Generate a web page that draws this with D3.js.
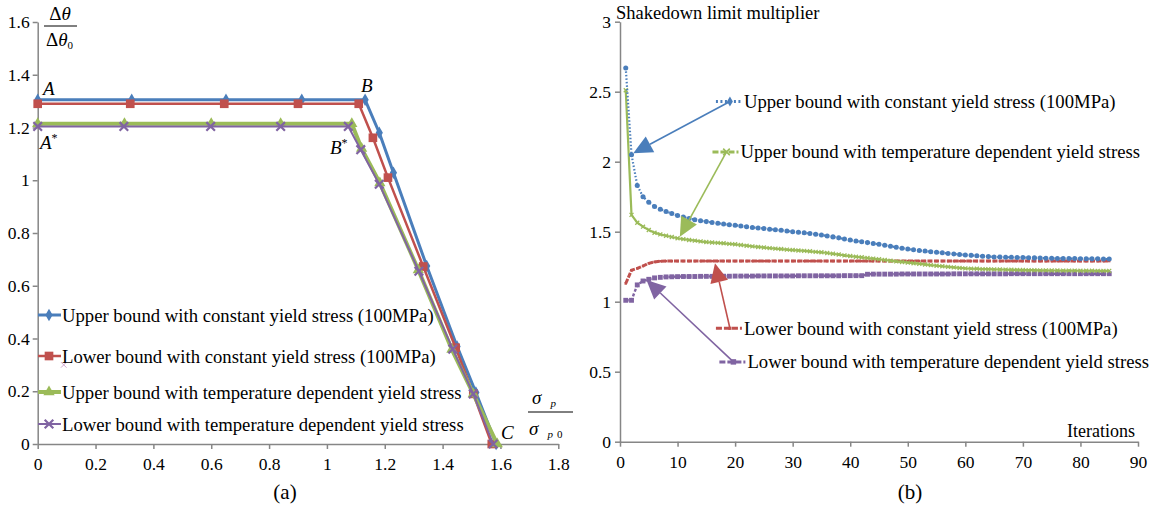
<!DOCTYPE html>
<html>
<head>
<meta charset="utf-8">
<script src="https://cdn.jsdelivr.net/npm/d3@7"></script>
<style>
  body { margin: 0; background: #fff; }
  svg text { font-family: "Liberation Serif", "Times New Roman", serif; fill: #000; }
</style>
</head>
<body>
<svg id="chart" width="1149" height="513"></svg>
<script>
// ---------- panel (a): normalised temperature range vs. normalised load ----------
const aXTicks = [0, 0.2, 0.4, 0.6, 0.8, 1, 1.2, 1.4, 1.6, 1.8];
const aYTicks = [0, 0.2, 0.4, 0.6, 0.8, 1, 1.2, 1.4, 1.6];

const aUpperConstX = [0, 0.325, 0.651, 0.913, 1.132, 1.181, 1.23, 1.345, 1.45, 1.515, 1.585];
const aUpperConstY = [1.305, 1.305, 1.305, 1.305, 1.305, 1.18, 1.028, 0.675, 0.37, 0.195, 0];
const aLowerConstX = [0, 0.32, 0.645, 0.9, 1.11, 1.159, 1.211, 1.333, 1.445, 1.506, 1.57];
const aLowerConstY = [1.29, 1.29, 1.29, 1.29, 1.29, 1.161, 1.01, 0.673, 0.365, 0.19, 0];
const aUpperTempX = [0, 0.3, 0.6, 0.84, 1.086, 1.12, 1.183, 1.316, 1.432, 1.506, 1.589];
const aUpperTempY = [1.214, 1.214, 1.214, 1.214, 1.214, 1.12, 0.99, 0.66, 0.358, 0.19, 0];
const aLowerTempX = [0, 0.298, 0.598, 0.84, 1.074, 1.117, 1.181, 1.318, 1.435, 1.506, 1.575];
const aLowerTempY = [1.204, 1.204, 1.204, 1.204, 1.204, 1.116, 0.985, 0.655, 0.36, 0.19, 0];
const aStrayX = [0.09];
const aStrayY = [0.3];

// ---------- panel (b): shakedown multiplier vs. iterations ----------
const bXTicks = [0, 10, 20, 30, 40, 50, 60, 70, 80, 90];
const bYTicks = [0, 0.5, 1, 1.5, 2, 2.5, 3];
const iterations = d3.range(1, 86);

const bUpperConst = [
  2.67, 2.05, 1.83, 1.75, 1.71, 1.68, 1.66, 1.645, 1.63, 1.615,
  1.605, 1.595, 1.585, 1.578, 1.572, 1.566, 1.56, 1.555, 1.55, 1.546,
  1.541, 1.536, 1.53, 1.527, 1.523, 1.518, 1.514, 1.51, 1.505, 1.5,
  1.496, 1.492, 1.487, 1.482, 1.477, 1.47, 1.463, 1.456, 1.448, 1.44,
  1.434, 1.428, 1.422, 1.416, 1.41, 1.403, 1.396, 1.389, 1.382, 1.376,
  1.371, 1.366, 1.362, 1.357, 1.353, 1.349, 1.345, 1.341, 1.337, 1.334,
  1.331, 1.328, 1.325, 1.322, 1.32, 1.319, 1.318, 1.317, 1.316, 1.315,
  1.314, 1.313, 1.312, 1.311, 1.31, 1.309, 1.309, 1.308, 1.308, 1.307,
  1.307, 1.306, 1.306, 1.305, 1.305];
const bUpperTemp = [
  2.51, 1.62, 1.564, 1.536, 1.512, 1.493, 1.481, 1.471, 1.462, 1.453,
  1.447, 1.441, 1.436, 1.431, 1.426, 1.423, 1.42, 1.417, 1.413, 1.41,
  1.405, 1.4, 1.395, 1.391, 1.387, 1.383, 1.379, 1.376, 1.372, 1.369,
  1.366, 1.363, 1.36, 1.356, 1.353, 1.348, 1.342, 1.337, 1.331, 1.326,
  1.321, 1.317, 1.312, 1.308, 1.303, 1.298, 1.293, 1.288, 1.284, 1.279,
  1.275, 1.27, 1.266, 1.261, 1.257, 1.253, 1.249, 1.245, 1.241, 1.238,
  1.236, 1.235, 1.233, 1.232, 1.231, 1.23, 1.229, 1.228, 1.227, 1.226,
  1.225, 1.225, 1.224, 1.224, 1.223, 1.223, 1.222, 1.222, 1.222, 1.221,
  1.221, 1.221, 1.22, 1.22, 1.22];
const bLowerConst = [
  1.13, 1.225, 1.238, 1.255, 1.274, 1.284, 1.289, 1.29, 1.29, 1.29,
  1.29, 1.29, 1.29, 1.29, 1.29, 1.29, 1.29, 1.29, 1.29, 1.29,
  1.29, 1.29, 1.29, 1.29, 1.29, 1.29, 1.29, 1.29, 1.29, 1.29,
  1.29, 1.29, 1.29, 1.29, 1.29, 1.29, 1.29, 1.29, 1.29, 1.29,
  1.29, 1.29, 1.29, 1.29, 1.29, 1.29, 1.29, 1.29, 1.29, 1.29,
  1.29, 1.29, 1.29, 1.29, 1.29, 1.29, 1.29, 1.29, 1.29, 1.29,
  1.29, 1.29, 1.29, 1.29, 1.29, 1.29, 1.29, 1.29, 1.29, 1.29,
  1.29, 1.29, 1.29, 1.29, 1.29, 1.29, 1.29, 1.29, 1.29, 1.29,
  1.29, 1.29, 1.29, 1.29, 1.29];
const bLowerTemp = [
  1.01, 1.01, 1.12, 1.148, 1.16, 1.17, 1.174, 1.177, 1.178, 1.179,
  1.18, 1.18, 1.18, 1.181, 1.181, 1.181, 1.182, 1.182, 1.182, 1.183,
  1.183, 1.183, 1.183, 1.184, 1.184, 1.184, 1.184, 1.184, 1.184, 1.184,
  1.185, 1.185, 1.185, 1.185, 1.185, 1.185, 1.185, 1.185, 1.186, 1.186,
  1.186, 1.186, 1.196, 1.197, 1.197, 1.197, 1.197, 1.197, 1.198, 1.198,
  1.198, 1.198, 1.198, 1.198, 1.198, 1.198, 1.198, 1.199, 1.199, 1.199,
  1.199, 1.199, 1.199, 1.199, 1.199, 1.199, 1.199, 1.2, 1.2, 1.2,
  1.2, 1.2, 1.2, 1.2, 1.2, 1.2, 1.2, 1.2, 1.2, 1.2,
  1.2, 1.2, 1.2, 1.2, 1.2];

const seriesNames = [
  "Upper bound with constant yield stress (100MPa)",
  "Lower bound with constant yield stress (100MPa)",
  "Upper bound with temperature dependent yield stress",
  "Lower bound with temperature dependent yield stress"];

// callout positions for panel (b): [iteration, multiplier] of label and arrow tip
const bLabelAt = [[19.1, 2.43], [19.1, 0.81], [18.5, 2.07], [19.7, 0.57]];
const bArrowTip = [[2.3, 2.06], [16.5, 1.274], [10.4, 1.464], [4.6, 1.155]];

const BLUE = "#4A7EBB", RED = "#C0504D", GREEN = "#9BBB59", PURPLE = "#8064A2";
const AXIS = "#868686";
const LABEL_SIZE = 18.7;
const svg = d3.select("svg#chart");
const xSym = d3.symbolX || d3.symbolCross;

/**
 * Styles an axis group the way the source spreadsheet draws it.
 * @param {selection} g The axis group.
 */
function styleAxis(g) {
  g.select(".domain").attr("stroke", AXIS).attr("stroke-width", 1.5);
  g.selectAll(".tick line").attr("stroke", AXIS).attr("stroke-width", 1.5);
  g.selectAll(".tick text").attr("font-size", 17.5).attr("fill", "#000")
      .attr("font-family", "Liberation Serif");
}

/**
 * Draws one marker at (x, y).
 */
function marker(g, type, x, y, size, color, stroke) {
  const p = g.append("path")
      .attr("d", d3.symbol().type(type).size(size)())
      .attr("transform", "translate(" + x + "," + y + ")");
  if (type === xSym) {
    p.attr("fill", "none").attr("stroke", color).attr("stroke-width", stroke || 2);
  } else {
    p.attr("fill", color);
  }
  return p;
}

/**
 * Arrow with a filled triangular head, tip at (x2, y2).
 */
function arrow(g, x1, y1, x2, y2, color) {
  const len = Math.hypot(x2 - x1, y2 - y1);
  const ux = (x2 - x1) / len, uy = (y2 - y1) / len;
  const hl = 19, hw = 9;
  const bx0 = x2 - ux * hl, by0 = y2 - uy * hl;
  g.append("line").attr("x1", x1).attr("y1", y1).attr("x2", bx0).attr("y2", by0)
      .attr("stroke", color).attr("stroke-width", 1.6);
  g.append("path")
      .attr("d", "M" + x2 + "," + y2 +
        "L" + (bx0 - uy * hw) + "," + (by0 + ux * hw) +
        "L" + (bx0 + uy * hw) + "," + (by0 - ux * hw) + "Z")
      .attr("fill", color);
}

// ================= panel (a) =================
function drawPanelA() {
  const x = d3.scaleLinear().domain([0, 1.8]).range([37.7, 558.3]);
  const y = d3.scaleLinear().domain([0, 1.6]).range([444, 22]);
  const g = svg.append("g");

  g.append("g").attr("transform", "translate(0," + y(0) + ")")
      .call(d3.axisBottom(x).tickValues(aXTicks).tickSize(5).tickSizeOuter(0)
          .tickPadding(9).tickFormat(d3.format("~g")))
      .call(styleAxis);
  g.append("g").attr("transform", "translate(" + x(0) + ",0)")
      .call(d3.axisLeft(y).tickValues(aYTicks).tickSize(5).tickSizeOuter(0)
          .tickPadding(3).tickFormat(d3.format("~g")))
      .call(styleAxis);

  const series = [
    {xs: aUpperConstX, ys: aUpperConstY, color: BLUE, w: 3, sym: d3.symbolDiamond, size: 45},
    {xs: aLowerConstX, ys: aLowerConstY, color: RED, w: 2.5, sym: d3.symbolSquare, size: 75},
    {xs: aUpperTempX, ys: aUpperTempY, color: GREEN, w: 4, sym: d3.symbolTriangle, size: 55},
    {xs: aLowerTempX, ys: aLowerTempY, color: PURPLE, w: 2, sym: xSym, size: 50},
  ];
  const line = d3.line().x((d) => x(d[0])).y((d) => y(d[1]));
  series.forEach((s) => {
    const pts = s.xs.map((v, i) => [v, s.ys[i]]);
    g.append("path").datum(pts).attr("fill", "none").attr("stroke", s.color)
        .attr("stroke-width", s.w).attr("stroke-linejoin", "round").attr("d", line);
    pts.forEach((p) => marker(g, s.sym, x(p[0]), y(p[1]), s.size, s.color, 2.2));
  });
  aStrayX.forEach((v, i) => marker(g, xSym, x(v), y(aStrayY[i]), 22, "#D3A6CF", 1));

  // legend inside the plot
  const legY = [315, 356, 392, 424];
  series.forEach((s, i) => {
    g.append("line").attr("x1", 38).attr("x2", 61).attr("y1", legY[i]).attr("y2", legY[i])
        .attr("stroke", s.color).attr("stroke-width", s.w);
    marker(g, s.sym, 49, legY[i], s.size, s.color, 2.2);
    g.append("text").attr("x", 62).attr("y", legY[i]).attr("dy", "0.35em")
        .attr("font-size", LABEL_SIZE).text(seriesNames[i]);
  });

  // point labels
  const it = (sel) => sel.attr("font-style", "italic").attr("font-size", 19);
  g.append("text").attr("x", 43).attr("y", 95).text("A").call(it);
  const as = g.append("text").attr("x", 40).attr("y", 149).call(it);
  as.append("tspan").text("A");
  as.append("tspan").attr("font-size", 12).attr("dy", -7).attr("font-style", "normal").text("*");
  g.append("text").attr("x", 361).attr("y", 92).text("B").call(it);
  const bs = g.append("text").attr("x", 330).attr("y", 154).call(it);
  bs.append("tspan").text("B");
  bs.append("tspan").attr("font-size", 12).attr("dy", -7).attr("font-style", "normal").text("*");
  g.append("text").attr("x", 501).attr("y", 439).text("C").call(it);

  // y axis title: Δθ / Δθ0
  const num = g.append("text").attr("x", 60).attr("y", 20).attr("text-anchor", "middle")
      .attr("font-size", 19);
  num.append("tspan").text("Δ");
  num.append("tspan").attr("font-style", "italic").text("θ");
  g.append("line").attr("x1", 44).attr("x2", 77).attr("y1", 26).attr("y2", 26)
      .attr("stroke", "#000").attr("stroke-width", 1);
  const den = g.append("text").attr("x", 46).attr("y", 46).attr("font-size", 19);
  den.append("tspan").text("Δ");
  den.append("tspan").attr("font-style", "italic").text("θ");
  den.append("tspan").attr("font-size", 11).attr("dy", 3).text("0");

  // x axis title: σp / σp0
  const xn = g.append("text").attr("x", 532).attr("y", 404).attr("font-size", 19);
  xn.append("tspan").attr("font-style", "italic").text("σ");
  xn.append("tspan").attr("font-style", "italic").attr("font-size", 11)
      .attr("dx", 9).attr("dy", 3).text("p");
  g.append("line").attr("x1", 528).attr("x2", 573).attr("y1", 412).attr("y2", 412)
      .attr("stroke", "#000").attr("stroke-width", 1);
  const xd = g.append("text").attr("x", 529).attr("y", 435).attr("font-size", 19);
  xd.append("tspan").attr("font-style", "italic").text("σ");
  xd.append("tspan").attr("font-style", "italic").attr("font-size", 11)
      .attr("dx", 9).attr("dy", 3).text("p");
  xd.append("tspan").attr("font-size", 11).attr("dx", 4).text("0");

  g.append("text").attr("x", 285).attr("y", 499).attr("text-anchor", "middle")
      .attr("font-size", 21).text("(a)");
}

// ================= panel (b) =================
function drawPanelB() {
  const x = d3.scaleLinear().domain([0, 90]).range([620, 1138]);
  const y = d3.scaleLinear().domain([0, 3]).range([441.7, 21.7]);
  const g = svg.append("g");

  g.append("g").attr("transform", "translate(0," + y(0) + ")")
      .call(d3.axisBottom(x).tickValues(bXTicks).tickSize(5).tickSizeOuter(0).tickPadding(9))
      .call(styleAxis);
  g.append("g").attr("transform", "translate(" + x(0) + ",0)")
      .call(d3.axisLeft(y).tickValues(bYTicks).tickSize(5).tickSizeOuter(0)
          .tickPadding(4).tickFormat(d3.format("~g")))
      .call(styleAxis);

  const series = [
    {vals: bUpperConst, color: BLUE, w: 2.2, dash: "1.5,2", sym: d3.symbolCircle, size: 20},
    {vals: bLowerConst, color: RED, w: 3, dash: "5,1.5", sym: d3.symbolSquare, size: 6},
    {vals: bUpperTemp, color: GREEN, w: 2.2, dash: null, sym: xSym, size: 12},
    {vals: bLowerTemp, color: PURPLE, w: 2.4, dash: "3,2", sym: d3.symbolSquare, size: 24},
  ];
  const line = d3.line().x((d) => x(d[0])).y((d) => y(d[1]));
  [1, 3, 2, 0].forEach((k) => {
    const s = series[k];
    const pts = iterations.map((t, i) => [t, s.vals[i]]);
    g.append("path").datum(pts).attr("fill", "none").attr("stroke", s.color)
        .attr("stroke-width", s.w).attr("stroke-dasharray", s.dash).attr("d", line);
    pts.forEach((p) => marker(g, s.sym, x(p[0]), y(p[1]), s.size, s.color, 1.3));
  });

  // callouts
  series.forEach((s, i) => {
    const lx = x(bLabelAt[i][0]), ly = y(bLabelAt[i][1]);
    arrow(g, lx, ly, x(bArrowTip[i][0]), y(bArrowTip[i][1]), s.color);
    g.append("line").attr("x1", lx - 14).attr("x2", lx + 12).attr("y1", ly).attr("y2", ly)
        .attr("stroke", s.color).attr("stroke-width", 3)
        .attr("stroke-dasharray", i === 0 ? "2,2.5" : "6,2");
    marker(g, i === 0 ? d3.symbolDiamond : s.sym, lx, ly, i === 1 ? 10 : 30, s.color, 1.6);
    g.append("text").attr("x", lx + 14).attr("y", ly).attr("dy", "0.35em")
        .attr("font-size", LABEL_SIZE).text(seriesNames[i]);
  });

  g.append("text").attr("x", 616).attr("y", 19).attr("font-size", 18.5)
      .text("Shakedown limit multiplier");
  g.append("text").attr("x", 1135).attr("y", 437).attr("text-anchor", "end")
      .attr("font-size", 18).text("Iterations");
  g.append("text").attr("x", 910).attr("y", 499).attr("text-anchor", "middle")
      .attr("font-size", 21).text("(b)");
}

svg.append("rect").attr("width", 1149).attr("height", 513).attr("fill", "#fff");
drawPanelA();
drawPanelB();
</script>
</body>
</html>
